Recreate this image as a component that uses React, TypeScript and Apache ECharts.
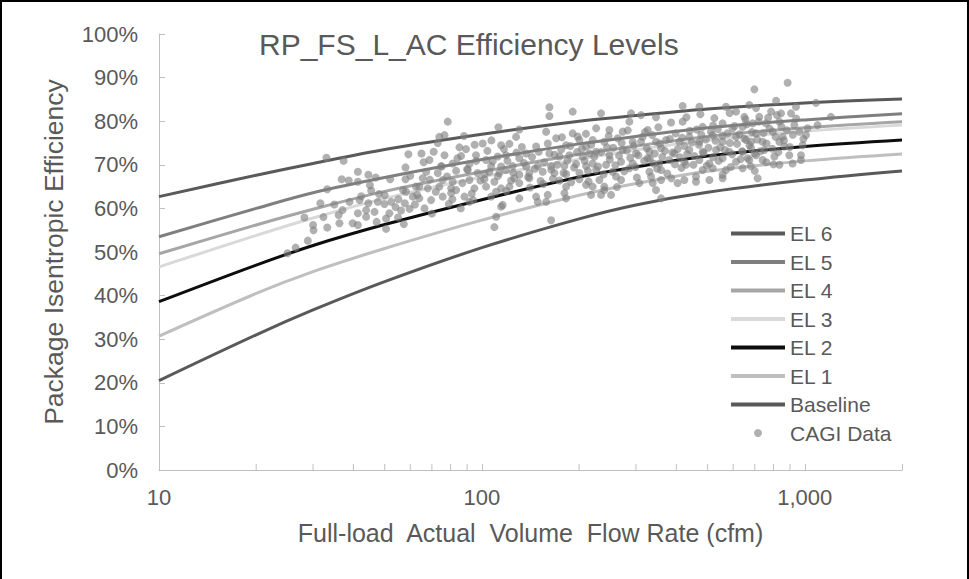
import React, { useEffect, useRef } from "react";
import * as echarts from "echarts";

// ---- Data ----
const chartTitle = "RP_FS_L_AC Efficiency Levels";
const xAxisTitle = "Full-load  Actual  Volume  Flow Rate (cfm)";
const yAxisTitle = "Package Isentropic Efficiency";

const curveFlows = [10, 20, 30, 50, 100, 200, 300, 500, 1000, 2000];
const el6 = [62.7, 67.6, 70.3, 73.5, 77.0, 80.0, 81.3, 82.8, 84.2, 85.1];
const el5 = [53.5, 60.0, 63.6, 67.1, 71.2, 74.8, 76.5, 78.5, 80.3, 81.7];
const el4 = [49.6, 56.2, 59.8, 63.9, 68.4, 72.4, 74.3, 76.5, 78.5, 79.9];
const el3 = [46.6, 53.8, 57.8, 62.3, 67.2, 71.3, 73.4, 75.7, 77.7, 79.1];
const el2 = [38.6, 47.0, 51.5, 56.3, 62.0, 67.2, 69.5, 72.0, 74.2, 75.7];
const el1 = [30.7, 40.5, 45.5, 50.8, 57.3, 63.0, 65.7, 68.5, 70.9, 72.5];
const baseline = [20.5, 31.0, 36.7, 43.2, 51.0, 57.6, 60.8, 63.7, 66.5, 68.6];

const seriesNames = ["EL 6", "EL 5", "EL 4", "EL 3", "EL 2", "EL 1", "Baseline"];
const seriesValues = [el6, el5, el4, el3, el2, el1, baseline];
const seriesColors = ["#595959", "#7f7f7f", "#a6a6a6", "#d9d9d9", "#0d0d0d", "#bfbfbf", "#595959"];
const scatterName = "CAGI Data";

const xMinorTicks = [20, 30, 40, 50, 60, 70, 80, 90, 200, 300, 400, 500, 600, 700, 800, 900];

// [flow (cfm), efficiency (%)]
const cagiData = [
  [33.0,71.6],[37.3,70.9],[59.2,72.4],[41.3,68.4],[44.5,67.7],[46.9,67.1],[36.8,66.7],[38.7,66.4],[41.3,66.1],[58.0,66.7],
  [33.2,64.4],[45.4,64.1],[42.3,62.8],[62.5,65.0],[58.2,63.8],[61.1,62.7],[31.6,61.2],[34.9,60.9],[38.9,61.5],[41.8,61.9],
  [44.5,61.2],[47.6,61.5],[49.9,61.0],[52.4,61.5],[55.1,62.1],[57.7,61.2],[43.8,59.6],[37.0,59.6],[41.3,58.9],[46.5,59.2],
  [51.7,58.9],[56.2,59.5],[59.7,59.9],[28.2,57.9],[32.3,58.0],[36.0,58.5],[43.8,58.1],[47.2,56.9],[50.5,57.7],[36.2,56.6],
  [39.8,56.6],[41.3,56.2],[30.0,56.2],[30.1,55.0],[33.2,55.6],[50.5,55.3],[57.3,56.4],[28.9,52.6],[26.5,51.0],[25.0,49.7],
  [78.4,79.9],[161.8,83.2],[161.8,81.2],[191.1,82.2],[112.5,78.6],[158.1,77.6],[130.6,78.1],[76.6,76.8],[73.8,76.4],[127.6,76.4],
  [191.1,77.2],[169.8,76.1],[100.6,74.9],[85.2,74.0],[89.3,73.6],[70.9,73.0],[114.7,74.5],[121.7,74.8],[147.2,74.2],[182.3,74.5],
  [200.4,75.7],[210.2,74.2],[76.6,72.2],[86.2,72.0],[95.9,72.2],[68.8,71.1],[103.0,71.1],[111.9,71.9],[118.8,72.2],[130.6,71.5],
  [137.1,72.6],[161.8,72.6],[173.8,71.9],[186.6,72.2],[205.1,71.9],[215.2,72.6],[74.8,69.7],[81.2,70.3],[91.5,70.2],[106.8,69.7],
  [114.7,69.6],[124.6,69.7],[137.1,69.6],[148.9,69.7],[163.8,69.7],[180.1,69.7],[195.7,70.2],[210.2,69.7],[67.2,68.4],[73.0,68.1],
  [83.2,68.6],[90.4,68.8],[97.0,68.1],[105.5,68.4],[113.2,68.1],[118.8,68.8],[130.6,67.7],[140.3,68.1],[154.3,68.4],[167.7,68.1],
  [182.3,67.9],[200.4,68.1],[65.6,66.9],[75.6,66.5],[81.2,66.1],[91.5,66.5],[101.8,66.7],[109.3,66.1],[123.1,66.4],[130.6,65.8],
  [140.3,66.9],[173.8,66.4],[200.4,66.7],[64.0,65.0],[68.0,64.6],[73.8,65.0],[80.3,64.6],[83.2,64.2],[94.8,64.6],[103.0,65.0],
  [114.7,64.6],[121.7,65.0],[182.3,65.0],[210.2,65.4],[64.0,62.3],[69.6,61.9],[75.6,62.7],[80.3,63.5],[88.3,62.7],[91.5,61.5],
  [106.8,62.7],[110.7,63.8],[130.6,62.3],[147.2,62.7],[159.9,63.1],[158.1,61.5],[182.3,62.3],[116.0,60.8],[114.7,60.4],[66.4,60.0],
  [110.7,58.1],[109.3,55.7],[163.8,57.3],[148.9,61.5],[180.1,63.5],
  [233.9,81.8],[289.7,81.8],[311.1,81.4],[346.1,80.9],[418.5,83.5],[471.5,83.3],[570.2,83.3],[612.4,82.2],[649.9,81.0],
  [225.8,78.4],[248.2,78.0],[272.9,77.6],[286.2,79.9],[326.0,78.0],[385.3,79.7],[418.5,79.9],[482.7,78.7],[524.7,80.7],[556.5,79.5],
  [597.7,78.4],[642.0,78.7],[220.3,75.7],[239.4,75.3],[263.3,76.1],[293.1,75.3],[314.6,76.4],[346.1,75.3],[371.8,75.7],[408.8,75.3],
  [438.9,76.4],[471.5,75.3],[518.3,76.8],[556.5,75.3],[612.4,76.4],[657.7,75.7],[225.8,73.0],[248.2,72.2],[272.9,73.4],[300.2,72.6],
  [330.1,73.0],[358.8,73.8],[394.5,72.6],[438.9,73.4],[482.7,73.0],[530.9,73.4],[583.4,73.0],[642.0,73.0],[220.3,70.3],[242.4,70.0],
  [269.8,70.7],[293.1,70.3],[326.0,71.5],[354.4,70.3],[380.6,71.1],[423.6,70.7],[471.5,71.1],[506.3,70.3],[556.5,71.5],[612.4,70.7],
  [665.3,71.5],[225.8,68.8],[254.1,68.4],[286.2,69.2],[330.1,68.4],[358.8,68.8],[428.5,70.0],[482.7,68.8],[518.3,69.2],[570.2,68.8],
  [642.0,69.2],[231.1,66.5],[260.3,67.3],[334.1,67.3],[358.8,66.5],[423.6,66.5],[460.4,67.3],[556.5,66.9],[220.3,65.0],[239.4,65.0],
  [269.8,66.5],[307.3,65.8],[338.1,65.8],[403.7,65.8],[460.4,66.1],[506.3,66.5],[556.5,67.7],[217.8,63.1],[233.9,63.1],[251.2,63.1],
  [346.1,64.2],[358.8,62.3],[239.4,64.2],
  [884.9,88.8],[698.0,87.3],[814.7,84.7],[673.3,83.7],[706.3,83.0],[786.3,82.2],[844.2,81.8],[906.3,81.8],[939.2,83.3],[1083.1,84.2],
  [1205.0,81.0],[722.8,81.0],[689.5,79.5],[758.2,79.5],[834.1,79.9],[928.0,79.1],[1020.2,78.4],[1095.3,79.1],[706.3,77.2],[795.3,77.6],
  [854.0,76.4],[1008.6,76.8],[681.7,75.3],[740.1,75.3],[834.1,75.3],[984.8,74.5],[681.7,73.8],[749.0,73.4],[864.5,74.2],[706.3,72.2],
  [805.1,71.9],[895.3,72.2],[973.3,72.2],[673.3,71.1],[740.1,71.1],[834.1,70.0],[973.3,71.1],[714.5,66.9],[916.6,70.3],
  // dense cluster, estimated
  [104,73.2],[108,70.8],[112,67.4],[117,73.6],[120,70.9],[125,68.2],[128,72.8],[133,74.1],[135,70.4],[139,67.2],
  [143,71.8],[146,69.1],[150,73.0],[152,66.3],[156,70.6],[160,74.9],[164,68.9],[168,72.3],[171,70.0],[176,73.5],
  [179,68.1],[184,71.0],[188,74.3],[193,69.4],[197,72.9],[102,67.9],[107,75.6],[119,64.0],[126,66.9],[141,64.8],
  [155,65.6],[166,66.8],[177,76.3],[189,66.0],[198,76.5],
  [204,73.7],[208,70.9],[213,68.6],[218,74.6],[223,71.9],[229,69.6],[234,72.9],[238,67.8],[244,74.0],[249,71.2],
  [255,73.9],[259,69.9],[266,72.1],[271,75.0],[276,68.5],[281,73.3],[288,71.6],[295,74.4],[299,69.5],[305,72.2],
  [311,75.3],[318,70.9],[324,73.8],[331,71.4],[337,76.8],[343,72.6],[349,69.1],[356,74.9],[362,71.8],[369,73.2],
  [375,68.0],[382,75.9],[389,72.8],[396,70.1],[210,77.1],[247,76.6],[283,77.9],[320,77.5],[352,78.6],[398,77.2],
  [214,66.2],[262,64.9],[302,67.1],[340,70.3],[386,66.9],
  [404,73.6],[411,71.7],[417,76.2],[424,74.3],[432,72.5],[440,77.8],[447,75.1],[455,72.0],[463,78.1],[470,74.6],
  [478,76.9],[486,72.7],[494,75.8],[503,73.9],[512,77.6],[520,71.8],[529,75.5],[538,78.2],[547,74.0],[556,76.7],
  [566,73.4],[576,77.2],[586,75.0],[596,72.4],[606,78.9],[617,74.8],[628,77.0],[639,73.1],[650,76.0],[662,79.3],
  [674,74.5],[686,77.5],[698,72.6],[415,69.3],[452,70.0],[497,69.8],[541,70.9],[590,69.5],[633,71.3],[680,69.7],
  [430,80.9],[475,81.6],[520,79.0],[585,81.9],[655,80.4],
  [45,65.3],[48,63.3],[52,66.7],[54,60.3],[57,64.2],[60,67.5],[63,63.1],[66,70.6],[69,66.6],[72,63.8],
  [75,69.6],[78,67.3],[81,62.1],[84,71.5],[87,65.8],[90,69.0],[93,63.4],[96,70.9],[99,66.4],[55,57.9],
  [62,60.9],[70,58.8],[79,61.0],[86,60.0],[94,61.9],[50,63.0],[58,69.4],[65,72.6],[73,75.0],[88,76.6],[95,74.6],
  [712,75.8],[728,73.1],[745,77.3],[761,74.9],[778,78.3],[793,73.7],[812,76.4],[828,72.9],[846,78.8],[862,75.6],
  [880,77.9],[899,74.1],[918,76.9],[940,80.6],[962,77.6],[990,75.9],[720,79.9],[770,80.8],[820,81.4],[760,70.6],
  [800,70.1],[700,68.6],
];

const FONT = "'Liberation Sans', Arial, sans-serif";
const TEXT_COLOR = "#595959";
const AXIS_COLOR = "#bfbfbf";
const LINE_ICON = "path://M0,0H54V4H0Z";

export default function App() {
  const ref = useRef<HTMLDivElement>(null);

  useEffect(() => {
    document.body.style.margin = "0";
    if (!ref.current) return;
    const chart = echarts.init(ref.current, null, { renderer: "svg" });

    const lineSeries = seriesNames.map((name, i) => ({
      name,
      type: "line",
      data: curveFlows.map((f, j) => [f, seriesValues[i][j]]),
      smooth: 0.35,
      symbol: "none",
      z: 2,
      lineStyle: { color: seriesColors[i], width: 3 },
      itemStyle: { color: seriesColors[i] },
    }));

    chart.setOption({
      animation: false,
      backgroundColor: "#ffffff",
      textStyle: { fontFamily: FONT },
      title: {
        text: chartTitle,
        left: 259,
        top: 29,
        padding: 0,
        textStyle: { fontFamily: FONT, fontSize: 30, fontWeight: "normal", color: TEXT_COLOR },
      },
      grid: { left: 159, right: 67, top: 34, bottom: 109 },
      legend: {
        orient: "vertical",
        left: 731,
        top: 223,
        padding: 0,
        itemWidth: 54,
        itemHeight: 8,
        itemGap: 7.5,
        data: [
          ...seriesNames.map((n) => ({ name: n, icon: LINE_ICON })),
          { name: scatterName, icon: "circle" },
        ],
        textStyle: { fontFamily: FONT, fontSize: 21, color: TEXT_COLOR },
      },
      xAxis: {
        type: "log",
        logBase: 10,
        min: 10,
        max: 2000,
        name: xAxisTitle,
        nameLocation: "middle",
        nameGap: 50,
        nameTextStyle: { fontFamily: FONT, fontSize: 25, color: TEXT_COLOR },
        axisLine: { lineStyle: { color: AXIS_COLOR, width: 1 } },
        axisTick: { show: true, inside: true, length: 6, lineStyle: { color: AXIS_COLOR } },
        splitLine: { show: false },
        minorTick: { show: false },
        axisLabel: {
          margin: 16,
          fontFamily: FONT,
          fontSize: 22,
          color: TEXT_COLOR,
          formatter: (v: number) => {
            const r = Math.round(v);
            const lg = Math.log10(r);
            return Math.abs(lg - Math.round(lg)) < 1e-6 ? r.toLocaleString("en-US") : "";
          },
        },
      },
      yAxis: {
        type: "value",
        min: 0,
        max: 100,
        interval: 10,
        name: yAxisTitle,
        nameLocation: "middle",
        nameGap: 92,
        nameTextStyle: { fontFamily: FONT, fontSize: 26.5, color: TEXT_COLOR },
        axisLine: { show: true, lineStyle: { color: AXIS_COLOR, width: 1 } },
        axisTick: { show: true, inside: true, length: 6, lineStyle: { color: AXIS_COLOR } },
        splitLine: { show: false },
        axisLabel: { margin: 21, fontFamily: FONT, fontSize: 22, color: TEXT_COLOR, formatter: "{value}%" },
      },
      series: [
        ...lineSeries,
        {
          name: scatterName,
          type: "scatter",
          data: cagiData,
          symbol: "circle",
          symbolSize: 8,
          z: 3,
          itemStyle: { color: "#808080", opacity: 0.62 },
        },
        {
          name: "minorTicks",
          type: "custom",
          data: xMinorTicks.map((v) => [v, 0]),
          silent: true,
          z: 4,
          renderItem: (params: any, api: any) => {
            const p = api.coord([api.value(0), 0]);
            return {
              type: "line",
              shape: { x1: p[0], y1: p[1], x2: p[0], y2: p[1] - 6 },
              style: { stroke: AXIS_COLOR, lineWidth: 1 },
            };
          },
        },
      ],
    });

    return () => chart.dispose();
  }, []);

  return (
    <div style={{ position: "relative", width: 969, height: 579 }}>
      <div ref={ref} style={{ position: "absolute", left: 0, top: 0, width: 969, height: 579 }} />
      <div
        style={{
          position: "absolute",
          left: 0,
          top: 0,
          width: 969,
          height: 579,
          boxSizing: "border-box",
          borderTop: "2px solid #000",
          borderLeft: "2px solid #000",
          borderRight: "2px solid #000",
          pointerEvents: "none",
        }}
      />
    </div>
  );
}
